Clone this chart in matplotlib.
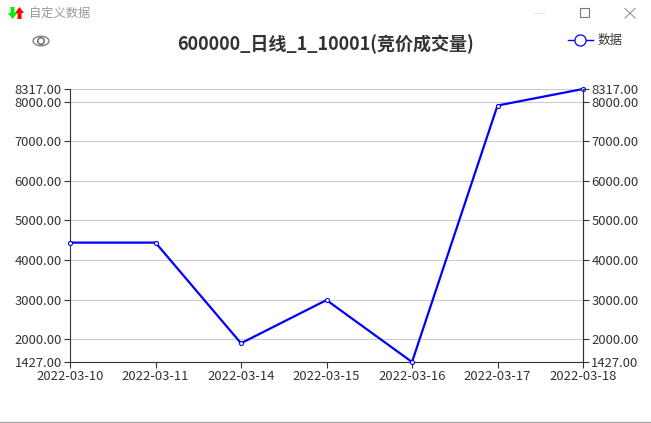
import matplotlib
matplotlib.use('Agg')
import matplotlib.pyplot as plt
from matplotlib.patches import Ellipse, Polygon, Rectangle

plt.rcParams['font.family'] = ['Noto Sans CJK SC', 'DejaVu Sans']

dates = ['2022-03-10', '2022-03-11', '2022-03-14', '2022-03-15',
         '2022-03-16', '2022-03-17', '2022-03-18']
values = [4440, 4440, 1900, 2990, 1427, 7900, 8317]
y_ticks = [1427, 2000, 3000, 4000, 5000, 6000, 7000, 8000, 8317]
y_min = 1427
y_max = 8317

W, H = 651, 423
TEXT = '#333333'
BLUE = '#0000ff'

fig = plt.figure(figsize=(W / 100, H / 100), dpi=100, facecolor='white')

# plot area, pixels from the reference
left, right, top, bottom = 70, 583, 89, 362
ax = fig.add_axes([left / W, 1 - bottom / H, (right - left) / W, (bottom - top) / H])
ax.set_xlim(0, len(dates) - 1)
ax.set_ylim(y_min, y_max)
ax.set_xticks(range(len(dates)))
ax.set_xticklabels(dates)
ax.set_yticks(y_ticks)
ax.set_yticklabels(['%.2f' % v for v in y_ticks])
ax.grid(axis='y', color='#cccccc', linewidth=0.8)
ax.set_axisbelow(True)
ax.spines['top'].set_visible(False)
ax.tick_params(axis='both', length=4.5, width=0.8, color=TEXT, labelcolor=TEXT, labelsize=9.4, pad=1.5)
for name in ['left', 'bottom', 'right']:
    ax.spines[name].set_color(TEXT)
    ax.spines[name].set_linewidth(0.8)

line, = ax.plot(range(len(dates)), values, color=BLUE, linewidth=1.6, marker='o',
                markersize=2.9, markerfacecolor='white', markeredgecolor=BLUE,
                markeredgewidth=0.8, clip_on=False, zorder=5)

ax2 = ax.twinx()
ax2.set_ylim(y_min, y_max)
ax2.set_yticks(y_ticks)
ax2.set_yticklabels(['%.2f' % v for v in y_ticks])
ax2.spines['top'].set_visible(False)
ax2.spines['left'].set_visible(False)
ax2.spines['bottom'].set_visible(False)
ax2.spines['right'].set_color(TEXT)
ax2.spines['right'].set_linewidth(0.8)
ax2.tick_params(axis='y', length=4.5, width=0.8, color=TEXT, labelcolor=TEXT, labelsize=9.4, pad=1.5)

# overlay in pixel coordinates for title, legend and window frame
ov = fig.add_axes([0, 0, 1, 1], facecolor='none')
ov.set_xlim(0, W)
ov.set_ylim(H, 0)
ov.axis('off')

ov.text(326, 44, '600000_日线_1_10001(竞价成交量)', ha='center', va='center',
        fontsize=13, fontweight='bold', color=TEXT)

# legend
ov.plot([568, 593], [40, 40], color=BLUE, linewidth=1)
ov.plot([580], [40], marker='o', markersize=8, markerfacecolor='white',
        markeredgecolor=BLUE, markeredgewidth=0.9)
ov.text(598, 40, '数据', ha='left', va='center', fontsize=9, color=TEXT)

# eye icon
ov.add_patch(Ellipse((41, 41), 16, 9.5, facecolor='none', edgecolor='#777777', linewidth=0.9))
ov.add_patch(Ellipse((41, 41), 6.5, 6.5, facecolor='none', edgecolor='#777777', linewidth=1.2))

# window title bar
ov.add_patch(Polygon([(10.5, 7), (14.5, 7), (14.5, 13), (17.5, 13), (12.5, 19), (8, 13), (10.5, 13)],
                     facecolor='#00ee00', edgecolor='none'))
ov.add_patch(Polygon([(21.5, 19), (17.5, 19), (17.5, 13), (15, 13), (19.5, 7), (24, 13), (21.5, 13)],
                     facecolor='#ff0000', edgecolor='none'))
ov.text(29, 13.5, '自定义数据', ha='left', va='center', fontsize=8.8, color='#999999')
ov.plot([534, 544], [13.5, 13.5], color='#e8e8e8', linewidth=0.8)
ov.add_patch(Rectangle((580, 8.5), 9, 9, facecolor='none', edgecolor='#777777', linewidth=0.8))
ov.plot([625, 635], [8.5, 18], color='#888888', linewidth=0.7)
ov.plot([625, 635], [18, 8.5], color='#888888', linewidth=0.7)

# bottom edge of the window
ov.plot([0, W], [422, 422], color='#aaaaaa', linewidth=1)

fig.savefig('out.png', dpi=100)
